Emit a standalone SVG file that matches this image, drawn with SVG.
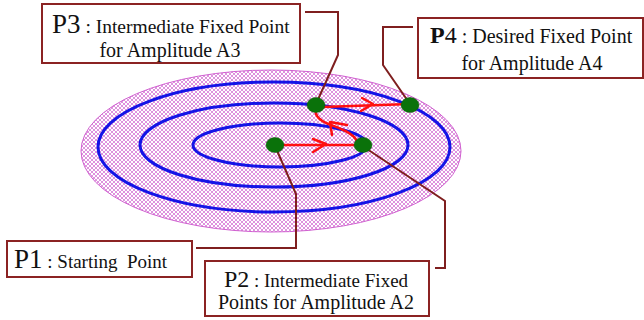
<svg xmlns="http://www.w3.org/2000/svg" width="644" height="320" viewBox="0 0 644 320">
<style>
.box{fill:#fff;stroke:#8B2323;stroke-width:2}
.lead{fill:none;stroke:#7F1F1F;stroke-width:2}
.orbit{fill:none;stroke:#1414E6;stroke-width:3}
.path{fill:none;stroke:#FF1010;stroke-width:2.5;stroke-linecap:round;stroke-linejoin:round}
.dot{fill:#0A720A;stroke:#0A5A0A;stroke-width:0.5}
.t{font-family:"Liberation Serif","Times New Roman",serif;fill:#111}
</style>
<defs>
<pattern id="hatch" width="4" height="4" patternUnits="userSpaceOnUse">
<rect width="4" height="4" fill="#fff"/>
<path d="M0,0 L4,4 M4,0 L0,4" stroke="#C848C8" stroke-width="0.6"/>
</pattern>
</defs>
<g id="field">
<ellipse cx="271" cy="151" rx="190" ry="81" fill="url(#hatch)" stroke="#D060D0" stroke-width="1"/>
<ellipse class="orbit" cx="274" cy="147" rx="176" ry="65"/>
<ellipse class="orbit" cx="274" cy="145" rx="134" ry="42"/>
<ellipse class="orbit" cx="280" cy="145" rx="87" ry="22"/>
</g>
<g id="connectors">
<polyline class="lead" points="305,12 338,12 338,55 316,104"/>
<polyline class="lead" points="413,27 383,27 383,65 410,104"/>
<polyline class="lead" points="275,146 296,194 296,248 196,248"/>
<polyline class="lead" points="364,147 445,201 445,268 435,268"/>
<path class="path" d="M275,145 L360,145"/>
<path class="path" d="M313,139 L326,144 L313,152"/>
<path class="path" d="M358,145 C357,133 338,128 326,123 C316,118 311,110 322,107 L410,104"/>
<path class="path" d="M347,125 L330,122 L332,135"/>
<path class="path" d="M362,98 L373,104 L361,111"/>
</g>
<g id="p1dot"><ellipse class="dot" cx="275" cy="145" rx="9" ry="7.5"/></g>
<g id="p2dot"><ellipse class="dot" cx="363" cy="145" rx="9" ry="7.5"/></g>
<g id="p3dot"><ellipse class="dot" cx="316" cy="105" rx="9" ry="7.5"/></g>
<g id="p4dot"><ellipse class="dot" cx="410" cy="105" rx="9" ry="7.5"/></g>
<g id="p3">
<rect class="box" x="42" y="4" width="258" height="59"/>
<text class="t" x="52" y="33"><tspan font-size="27">P3</tspan><tspan font-size="19.5"> : Intermediate Fixed Point</tspan></text>
<text class="t" x="170" y="57" font-size="20" text-anchor="middle">for Amplitude A3</text>
</g>
<g id="p4">
<rect class="box" x="418" y="18" width="225" height="60"/>
<text class="t" x="430" y="43"><tspan font-size="24" font-weight="bold">P</tspan><tspan font-size="24">4</tspan><tspan font-size="20"> : Desired Fixed Point</tspan></text>
<text class="t" x="532" y="70" font-size="20" text-anchor="middle">for Amplitude A4</text>
</g>
<g id="p1">
<rect class="box" x="7" y="241" width="185" height="36"/>
<text class="t" x="14" y="268"><tspan font-size="27">P1</tspan><tspan font-size="19"> : Starting&#160; Point</tspan></text>
</g>
<g id="p2">
<rect class="box" x="205" y="261" width="224" height="55"/>
<text class="t" x="316" y="287" text-anchor="middle"><tspan font-size="24">P2</tspan><tspan font-size="19"> : Intermediate Fixed</tspan></text>
<text class="t" x="316" y="309" font-size="20" text-anchor="middle">Points for Amplitude A2</text>
</g>
</svg>
